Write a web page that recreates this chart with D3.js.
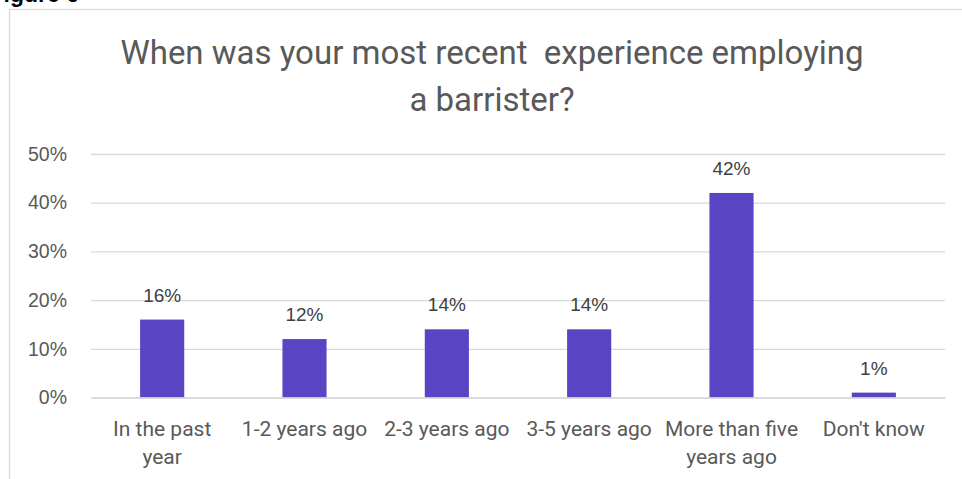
<!DOCTYPE html>
<html>
<head>
<meta charset="utf-8">
<script src="https://cdn.jsdelivr.net/npm/d3@7"></script>
<style>
  html, body { margin: 0; padding: 0; background: #fff; }
  svg { display: block; }
</style>
</head>
<body>
<svg id="chart" width="962" height="479"></svg>
<script>
// Survey responses: most recent experience employing a barrister
const categories = ["In the past\nyear", "1-2 years ago", "2-3 years ago", "3-5 years ago", "More than five\nyears ago", "Don't know"];
const shares = [0.16, 0.12, 0.14, 0.14, 0.42, 0.01];
const yTicks = [0, 0.1, 0.2, 0.3, 0.4, 0.5];
const titleLines = ["When was your most recent\u00a0 experience employing", "a barrister?"];
const figureLabel = "Figure 6";

const svg = d3.select("#chart");
const plot = { left: 91, right: 945, top: 154, bottom: 397.5 };

// Figure caption sitting above the chart frame
svg.append("text")
  .attr("x", 79).attr("y", 2)
  .attr("text-anchor", "end")
  .attr("font-family", "Liberation Sans, Arial, sans-serif")
  .attr("font-weight", "bold")
  .attr("font-size", 23)
  .attr("fill", "#000")
  .text(figureLabel);

// Chart frame
svg.append("rect")
  .attr("x", 9.5).attr("y", 9.5)
  .attr("width", 966).attr("height", 520)
  .attr("fill", "#fff")
  .attr("stroke", "#d9d9d9")
  .attr("stroke-width", 1.2);

// Title
svg.append("text")
  .attr("text-anchor", "middle")
  .attr("font-family", "Roboto, sans-serif")
  .attr("font-size", 33)
  .attr("fill", "#595959")
  .selectAll("tspan")
  .data(titleLines)
  .join("tspan")
  .attr("x", 492)
  .attr("y", (d, i) => 64 + i * 47)
  .text(d => d);

const x = d3.scaleBand()
  .domain(categories)
  .range([plot.left, plot.right])
  .paddingInner(0.69)
  .paddingOuter(0.345);

const y = d3.scaleLinear()
  .domain([0, 0.5])
  .range([plot.bottom, plot.top]);

// Gridlines and value axis labels
const yAxis = d3.axisLeft(y)
  .tickValues(yTicks)
  .tickFormat(d3.format(".0%"))
  .tickSize(-(plot.right - plot.left))
  .tickPadding(24);

const gy = svg.append("g")
  .attr("transform", `translate(${plot.left},0)`)
  .call(yAxis);
gy.select(".domain").remove();
gy.selectAll(".tick line")
  .attr("stroke", "#d9d9d9")
  .attr("stroke-width", 1.3);
gy.selectAll(".tick text")
  .attr("font-family", "Liberation Sans, Arial, sans-serif")
  .attr("font-size", 19.5)
  .attr("fill", "#595959");

// Bars
svg.append("g")
  .selectAll("rect")
  .data(shares)
  .join("rect")
  .attr("x", (d, i) => x(categories[i]))
  .attr("width", x.bandwidth())
  .attr("y", d => y(d))
  .attr("height", d => y(0) - y(d))
  .attr("fill", "#5945c4");

// Data labels
svg.append("g")
  .selectAll("text")
  .data(shares)
  .join("text")
  .attr("x", (d, i) => x(categories[i]) + x.bandwidth() / 2)
  .attr("y", d => y(d) - 18)
  .attr("text-anchor", "middle")
  .attr("font-family", "Liberation Sans, Arial, sans-serif")
  .attr("font-size", 19)
  .attr("fill", "#404040")
  .text(d => d3.format(".0%")(d));

// Category axis
const xAxis = d3.axisBottom(x).tickSize(0).tickPadding(0);
const gx = svg.append("g")
  .attr("transform", `translate(0,${plot.bottom})`)
  .call(xAxis);
gx.select(".domain")
  .attr("stroke", "#d9d9d9")
  .attr("stroke-width", 1.3);
gx.selectAll(".tick text").each(function(d) {
  const t = d3.select(this);
  t.text(null)
    .attr("y", 0)
    .attr("dy", null)
    .attr("font-family", "Roboto, sans-serif")
    .attr("font-size", 21)
    .attr("fill", "#595959");
  d.split("\n").forEach((line, i) => {
    t.append("tspan")
      .attr("x", 0)
      .attr("y", 38 + i * 28)
      .text(line);
  });
});
</script>
</body>
</html>
